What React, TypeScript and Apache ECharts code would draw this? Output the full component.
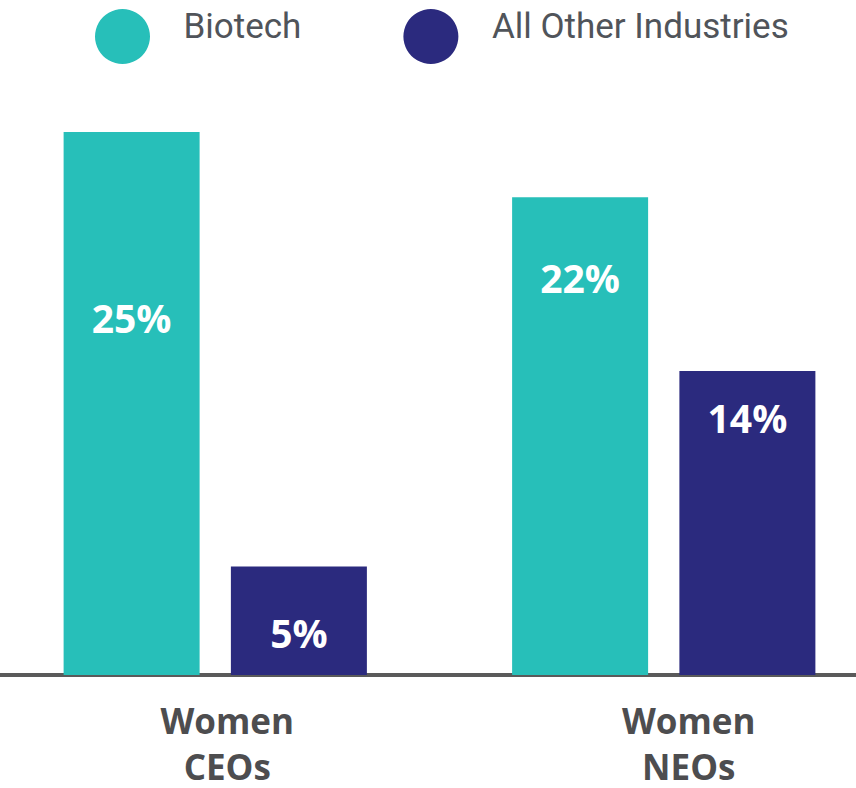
import React, { useEffect, useRef } from "react";
import * as echarts from "echarts";

const categories = ["Women\nCEOs", "Women\nNEOs"];
const seriesNames = ["Biotech", "All Other Industries"];
const biotechValues = [25, 22];
const otherValues = [5, 14];

// styling only: label centre distance below each bar's top, and category label nudge
const biotechLabelOffsets = [185, 80];
const otherLabelOffsets = [66, 47];
const categoryNudge = [24, 50];

const TEAL = "#27bfb9";
const NAVY = "#2b2a7e";
const LEGEND_TEXT = {
  fontFamily: "Roboto",
  fontSize: 35,
  color: "#50545a",
};

export default function App() {
  const ref = useRef<HTMLDivElement>(null);

  useEffect(() => {
    document.body.style.margin = "0";
    const chart = echarts.init(ref.current!, null, { renderer: "svg" });

    const labelBase = {
      show: true,
      formatter: "{c}%",
      color: "#ffffff",
      fontFamily: "Open Sans",
      fontWeight: 700,
      fontSize: 39,
      align: "center",
      verticalAlign: "middle",
    };

    const mkData = (vals: number[], offs: number[]) =>
      vals.map((v, i) => ({
        value: v,
        label: { ...labelBase, position: ["50%", offs[i]] },
      }));

    chart.setOption({
      animation: false,
      backgroundColor: "#ffffff",
      legend: {
        data: seriesNames,
        left: 95,
        top: 9,
        padding: 0,
        icon: "circle",
        itemWidth: 56,
        itemHeight: 55,
        itemGap: 102,
        formatter: "{t|{name}}",
        textStyle: {
          ...LEGEND_TEXT,
          padding: [0, 0, 0, 28],
          rich: {
            t: { ...LEGEND_TEXT, padding: [0, 0, 20, 0] },
          },
        },
      },
      grid: {
        left: -9,
        right: -32,
        top: 132,
        bottom: 113,
        containLabel: false,
        outerBoundsMode: "none",
      },
      xAxis: {
        type: "category",
        data: categories.map((c, i) => ({
          value: c,
          textStyle: { padding: [0, 0, 0, categoryNudge[i]] },
        })),
        axisLine: { show: true, lineStyle: { color: "#5a5a5a", width: 4 } },
        axisTick: { show: false },
        axisLabel: {
          fontFamily: "Open Sans",
          fontWeight: 700,
          fontSize: 35,
          lineHeight: 46,
          color: "#4d4d4f",
          margin: 22,
        },
      },
      yAxis: {
        type: "value",
        min: 0,
        max: 25,
        show: false,
        splitLine: { show: false },
      },
      series: [
        {
          name: seriesNames[0],
          type: "bar",
          barWidth: 136,
          barGap: "23%",
          itemStyle: { color: TEAL },
          data: mkData(biotechValues, biotechLabelOffsets),
        },
        {
          name: seriesNames[1],
          type: "bar",
          barWidth: 136,
          barGap: "23%",
          itemStyle: { color: NAVY },
          data: mkData(otherValues, otherLabelOffsets),
        },
      ],
    });

    return () => chart.dispose();
  }, []);

  return <div ref={ref} style={{ width: 856, height: 788 }} />;
}
